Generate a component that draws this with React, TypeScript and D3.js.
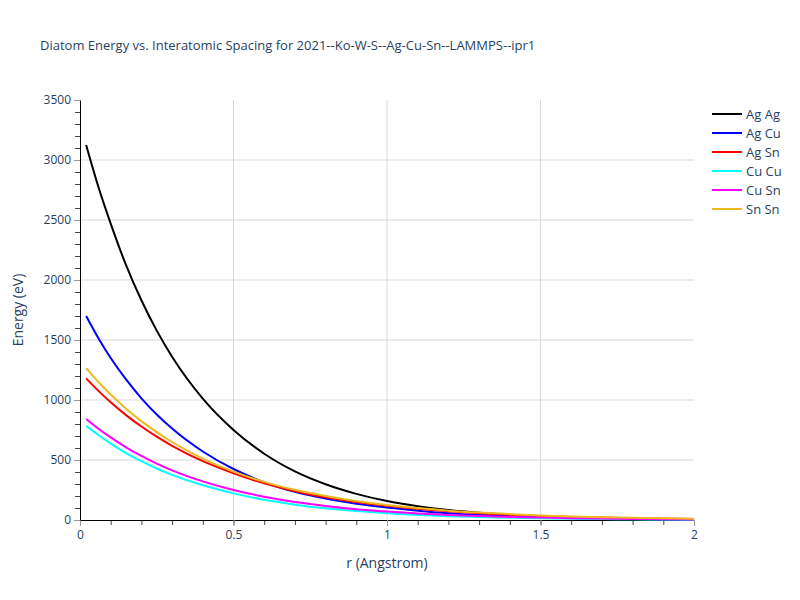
import * as d3 from 'd3';
import { useEffect, useRef } from 'react';

const rValues = [0.02, 0.06, 0.1, 0.15, 0.2, 0.25, 0.3, 0.4, 0.5, 0.6, 0.7, 0.8, 0.9, 1.0, 1.1, 1.2, 1.3, 1.4, 1.5, 1.6, 1.7, 1.8, 1.9, 2.0];

const agAg = [3125, 2775, 2470, 2124, 1831, 1578, 1360, 1011, 750, 552, 405, 298, 218, 158, 115, 83, 60, 43, 31, 22, 16, 11, 8, 6];
const agCu = [1700, 1515, 1350, 1171, 1014, 879, 762, 571, 425, 315, 235, 178, 136, 104, 78, 57, 42, 31, 23, 17, 12, 9, 6, 4];
const agSn = [1180, 1076, 981, 874, 779, 694, 618, 490, 389, 305, 240, 190, 150, 118, 93, 73, 57, 44, 34, 26, 20, 15, 11, 8];
const cuCu = [786, 708, 637, 558, 490, 429, 376, 289, 222, 168, 128, 97, 74, 56, 42, 32, 24, 18, 14, 10, 8, 6, 4, 3];
const cuSn = [842, 761, 688, 606, 534, 470, 414, 322, 250, 194, 150, 117, 90, 70, 54, 42, 33, 25, 20, 15, 12, 9, 7, 5];
const snSn = [1265, 1150, 1046, 928, 824, 732, 650, 512, 403, 318, 252, 200, 158, 125, 99, 78, 62, 49, 38, 30, 23, 18, 14, 10];

const seriesNames = ['Ag Ag', 'Ag Cu', 'Ag Sn', 'Cu Cu', 'Cu Sn', 'Sn Sn'];
const seriesValues = [agAg, agCu, agSn, cuCu, cuSn, snSn];
const seriesColors = ['#000000', '#0000ff', '#ff0000', '#00ffff', '#ff00ff', '#ecb920'];

const xTicks = [0, 0.5, 1, 1.5, 2];
const yTicks = [0, 500, 1000, 1500, 2000, 2500, 3000, 3500];

const title = 'Diatom Energy vs. Interatomic Spacing for 2021--Ko-W-S--Ag-Cu-Sn--LAMMPS--ipr1';

export default function App() {
    const svgRef = useRef<SVGSVGElement>(null);

    useEffect(() => {
        if (!svgRef.current) return;
        const width = 800;
        const height = 600;
        const margin = { top: 100, right: 106, bottom: 80, left: 80 };
        const font = '"Open Sans", verdana, arial, sans-serif';
        const textColor = '#2a3f5f';

        const svg = d3.select(svgRef.current).attr('width', width).attr('height', height).style('background', '#fff');
        svg.selectAll('*').remove();

        const x = d3.scaleLinear().domain([0, 2]).range([margin.left, width - margin.right]);
        const y = d3.scaleLinear().domain([0, 3500]).range([height - margin.bottom, margin.top]);

        // grid
        svg.append('g')
            .selectAll('line')
            .data(xTicks.filter((t) => t > 0 && t < 2))
            .join('line')
            .attr('x1', (d) => x(d))
            .attr('x2', (d) => x(d))
            .attr('y1', y(0))
            .attr('y2', y(3500))
            .attr('stroke', '#d9d9d9')
            .attr('stroke-width', 1);

        svg.append('g')
            .selectAll('line')
            .data(yTicks.filter((t) => t > 0 && t < 3500))
            .join('line')
            .attr('x1', x(0))
            .attr('x2', x(2))
            .attr('y1', (d) => y(d))
            .attr('y2', (d) => y(d))
            .attr('stroke', '#d9d9d9')
            .attr('stroke-width', 1);

        // minor ticks
        const xMinor = d3.range(0, 2.001, 0.1);
        const yMinor = d3.range(0, 3501, 100);
        svg.append('g')
            .attr('transform', `translate(0,${y(0)})`)
            .call(d3.axisBottom(x).tickValues(xMinor).tickSize(5).tickFormat(() => '').tickSizeOuter(0))
            .call((g) => g.select('.domain').remove())
            .selectAll('.tick line')
            .attr('stroke', '#444');
        svg.append('g')
            .attr('transform', `translate(${x(0)},0)`)
            .call(d3.axisLeft(y).tickValues(yMinor).tickSize(5).tickFormat(() => '').tickSizeOuter(0))
            .call((g) => g.select('.domain').remove())
            .selectAll('.tick line')
            .attr('stroke', '#444');

        // major axes
        const xAxis = svg
            .append('g')
            .attr('transform', `translate(0,${y(0)})`)
            .call(d3.axisBottom(x).tickValues(xTicks).tickSize(6).tickPadding(4).tickFormat(d3.format('~g')).tickSizeOuter(0));
        xAxis.select('.domain').attr('stroke', '#000');
        xAxis.selectAll('.tick line').attr('stroke', '#999');
        xAxis.selectAll('text').attr('fill', textColor).attr('font-size', 12).attr('font-family', font);

        const yAxis = svg
            .append('g')
            .attr('transform', `translate(${x(0)},0)`)
            .call(d3.axisLeft(y).tickValues(yTicks).tickSize(6).tickPadding(3).tickFormat(d3.format('d')).tickSizeOuter(0));
        yAxis.select('.domain').attr('stroke', '#000');
        yAxis.selectAll('.tick line').attr('stroke', '#999');
        yAxis.selectAll('text').attr('fill', textColor).attr('font-size', 12).attr('font-family', font);

        // lines
        const line = d3
            .line<number>()
            .x((_, i) => x(rValues[i]))
            .y((d) => y(d))
            .curve(d3.curveMonotoneX);

        svg.append('g')
            .selectAll('path')
            .data(seriesValues)
            .join('path')
            .attr('d', (d) => line(d))
            .attr('fill', 'none')
            .attr('stroke', (_, i) => seriesColors[i])
            .attr('stroke-width', 2);

        // title and axis titles
        svg.append('text')
            .attr('x', 40)
            .attr('y', 50)
            .attr('font-size', 13)
            .attr('font-family', font)
            .attr('fill', textColor)
            .text(title);

        svg.append('text')
            .attr('x', (x(0) + x(2)) / 2)
            .attr('y', 568)
            .attr('text-anchor', 'middle')
            .attr('font-size', 14)
            .attr('font-family', font)
            .attr('fill', textColor)
            .text('r (Angstrom)');

        svg.append('text')
            .attr('transform', `translate(23,${(y(0) + y(3500)) / 2}) rotate(-90)`)
            .attr('text-anchor', 'middle')
            .attr('font-size', 14)
            .attr('font-family', font)
            .attr('fill', textColor)
            .text('Energy (eV)');

        // legend
        const legend = svg
            .append('g')
            .selectAll('g')
            .data(seriesNames)
            .join('g')
            .attr('transform', (_, i) => `translate(712,${114 + i * 19})`);
        legend
            .append('line')
            .attr('x1', 0)
            .attr('x2', 30)
            .attr('stroke', (_, i) => seriesColors[i])
            .attr('stroke-width', 2);
        legend
            .append('text')
            .attr('x', 34)
            .attr('y', 4.5)
            .attr('font-size', 13)
            .attr('font-family', font)
            .attr('fill', textColor)
            .text((d) => d);
    }, []);

    return <svg ref={svgRef} style={{ position: 'absolute', left: 0, top: 0 }} />;
}
